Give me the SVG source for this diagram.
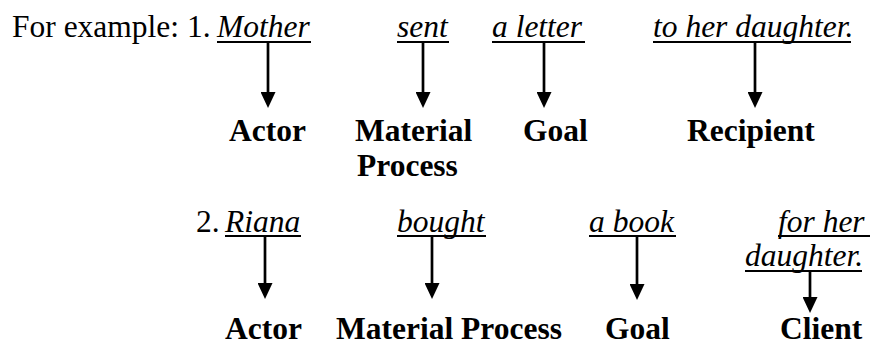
<svg xmlns="http://www.w3.org/2000/svg" width="878" height="344" viewBox="0 0 878 344">
<style>
text{font-family:"Liberation Serif","Times New Roman",serif;font-size:31.5px;fill:#000}
.w{font-style:italic}
.b{font-weight:bold}
.u{stroke:#000;stroke-width:2.2}
.a{stroke:#000;stroke-width:2.7;fill:none;marker-end:url(#ah)}
</style>
<defs>
<marker id="ah" markerUnits="userSpaceOnUse" markerWidth="16" markerHeight="15" viewBox="0 0 16 15" refX="4" refY="7.5" orient="auto">
<path d="M0,0 L16,7.5 L0,15 z" fill="#000"/>
</marker>
</defs>
<rect width="878" height="344" fill="#fff"/>
<g id="intro"><text x="12" y="37">For example: 1.</text></g>
<g id="s1-mother"><text class="w" x="217" y="37">Mother</text><line class="u" x1="217" y1="42" x2="311" y2="42"/></g>
<g id="s1-sent"><text class="w" x="397" y="37">sent</text><line class="u" x1="397" y1="42" x2="449" y2="42"/></g>
<g id="s1-letter"><text class="w" x="492" y="37">a letter</text><line class="u" x1="492" y1="42" x2="585" y2="42"/></g>
<g id="s1-daughter"><text class="w" x="653" y="37">to her daughter.</text><line class="u" x1="653" y1="42" x2="851" y2="42"/></g>
<g id="l1-actor"><text class="b" x="229" y="141">Actor</text></g>
<g id="l1-process"><text class="b" x="355" y="141">Material</text><text class="b" x="357" y="176">Process</text></g>
<g id="l1-goal"><text class="b" x="523" y="141">Goal</text></g>
<g id="l1-recipient"><text class="b" x="687" y="141">Recipient</text></g>
<g id="num2"><text x="196" y="232">2.</text></g>
<g id="s2-riana"><text class="w" x="225" y="232">Riana</text><line class="u" x1="225" y1="236" x2="301" y2="236"/></g>
<g id="s2-bought"><text class="w" x="397" y="232">bought</text><line class="u" x1="397" y1="236" x2="486" y2="236"/></g>
<g id="s2-book"><text class="w" x="589" y="232">a book</text><line class="u" x1="589" y1="236" x2="676" y2="236"/></g>
<g id="s2-daughter"><text class="w" x="778" y="232">for her</text><line class="u" x1="778" y1="236" x2="870" y2="236"/><text class="w" x="745" y="266">daughter.</text><line class="u" x1="745" y1="271" x2="862" y2="271"/></g>
<g id="l2-actor"><text class="b" x="225" y="339">Actor</text></g>
<g id="l2-process"><text class="b" x="336" y="339">Material Process</text></g>
<g id="l2-goal"><text class="b" x="605" y="339">Goal</text></g>
<g id="l2-client"><text class="b" x="780" y="339">Client</text></g>
<g id="connectors">
<line class="a" x1="268" y1="43" x2="268" y2="96"/>
<line class="a" x1="423" y1="43" x2="423" y2="96"/>
<line class="a" x1="544" y1="43" x2="544" y2="96"/>
<line class="a" x1="755" y1="43" x2="755" y2="96"/>
<line class="a" x1="265" y1="237" x2="265" y2="287"/>
<line class="a" x1="432" y1="237" x2="432" y2="287"/>
<line class="a" x1="637" y1="237" x2="637" y2="288"/>
<line class="a" x1="810" y1="272" x2="810" y2="301"/>
</g>
</svg>
